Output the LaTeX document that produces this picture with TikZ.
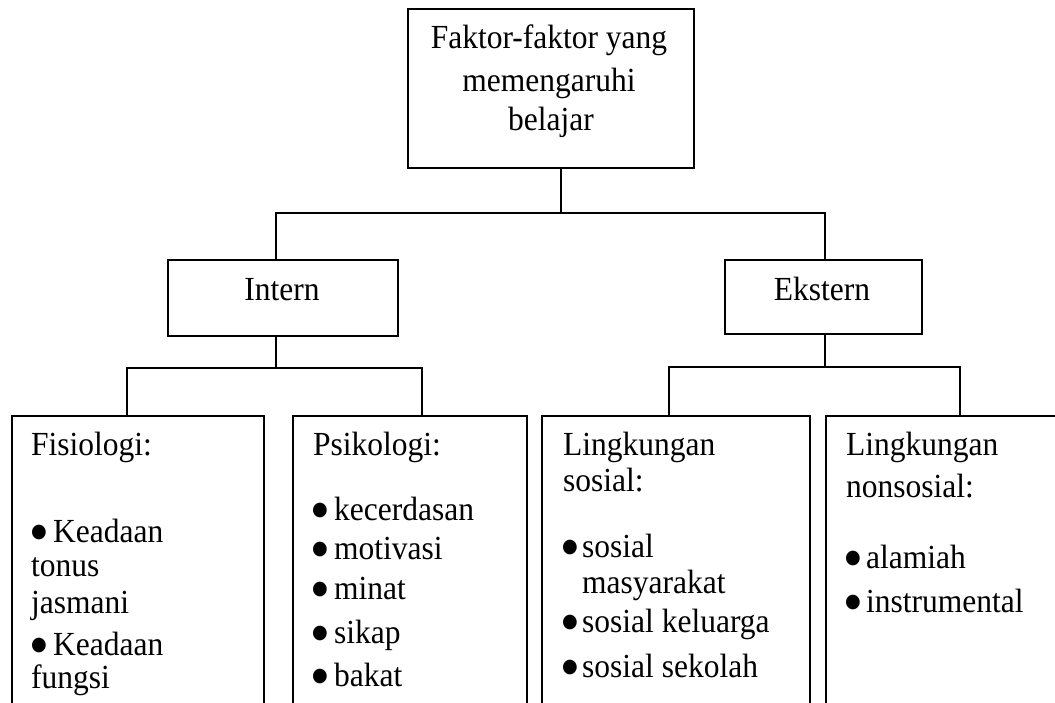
\documentclass[tikz,border=0pt]{standalone}
\usepackage{fontspec}
\setmainfont{Liberation Serif}
\newfontfamily\dejavu{DejaVu Sans}
\newcommand\vt[1]{\scalebox{1}[1.07]{#1}}
\newcommand\bul[1]{\makebox[#1][l]{\raisebox{4pt}{\fontsize{18}{18}\dejavu ●}}}
\begin{document}
\begin{tikzpicture}[x=1pt,y=-1pt,
  box/.style={draw,line width=1.5pt,rectangle,inner sep=0pt,anchor=north west},
  txt/.style={inner sep=0pt,font=\fontsize{31.5}{41}\selectfont},
  wire/.style={line width=1.5pt}]
\useasboundingbox (0,0) rectangle (1055,702);
\clip (0,0) rectangle (1055,702);
% boxes
\node[box,minimum width=286pt,minimum height=159pt] (top) at (407,8) {};
\node[box,minimum width=230pt,minimum height=76pt] (intern) at (167,259) {};
\node[box,minimum width=197pt,minimum height=74pt] (ekstern) at (724,259) {};
\node[box,minimum width=252pt,minimum height=400pt] (fis) at (11,415) {};
\node[box,minimum width=234pt,minimum height=400pt] (psi) at (292,415) {};
\node[box,minimum width=268pt,minimum height=400pt] (sos) at (541,415) {};
\node[box,minimum width=300pt,minimum height=400pt] (non) at (825,415) {};
% texts
\node[txt,anchor=base] (t1) at (549,48) {\vt{Faktor-faktor yang}};
\node[txt,anchor=base] (t2) at (549,91) {\vt{memengaruhi}};
\node[txt,anchor=base] (t3) at (551,130) {\vt{belajar}};
\node[txt,anchor=base] (ti) at (282,300) {\vt{Intern}};
\node[txt,anchor=base] (te) at (822,300) {\vt{Ekstern}};
% Fisiologi
\node[txt,anchor=base west] (f1) at (31,455) {\vt{Fisiologi:}};
\node[txt,anchor=base west] (f2) at (31,542) {\vt{\bul{22pt}Keadaan}};
\node[txt,anchor=base west] (f3) at (31,576) {\vt{tonus}};
\node[txt,anchor=base west] (f4) at (31,613) {\vt{jasmani}};
\node[txt,anchor=base west] (f5) at (31,655) {\vt{\bul{22pt}Keadaan}};
\node[txt,anchor=base west] (f6) at (31,688) {\vt{fungsi}};
% Psikologi
\node[txt,anchor=base west] (p1) at (313,455) {\vt{Psikologi:}};
\node[txt,anchor=base west] (p2) at (312,520) {\vt{\bul{22pt}kecerdasan}};
\node[txt,anchor=base west] (p3) at (312,559) {\vt{\bul{22pt}motivasi}};
\node[txt,anchor=base west] (p4) at (312,599) {\vt{\bul{22pt}minat}};
\node[txt,anchor=base west] (p5) at (312,643) {\vt{\bul{22pt}sikap}};
\node[txt,anchor=base west] (p6) at (312,686) {\vt{\bul{22pt}bakat}};
% Lingkungan sosial
\node[txt,anchor=base west] (s1) at (563,455) {\vt{Lingkungan}};
\node[txt,anchor=base west] (s2) at (563,491) {\vt{sosial:}};
\node[txt,anchor=base west] (s3) at (562,557) {\vt{\bul{20pt}sosial}};
\node[txt,anchor=base west] (s4) at (582,593) {\vt{masyarakat}};
\node[txt,anchor=base west] (s5) at (562,632) {\vt{\bul{20pt}sosial keluarga}};
\node[txt,anchor=base west] (s6) at (562,677) {\vt{\bul{20pt}sosial sekolah}};
% Lingkungan nonsosial
\node[txt,anchor=base west] (n1) at (846,455) {\vt{Lingkungan}};
\node[txt,anchor=base west] (n2) at (846,497) {\vt{nonsosial:}};
\node[txt,anchor=base west] (n3) at (845,568) {\vt{\bul{21pt}alamiah}};
\node[txt,anchor=base west] (n4) at (845,612) {\vt{\bul{21pt}instrumental}};
% junctions
\coordinate (j0) at (561,213);
\coordinate (ji) at (276,213);
\coordinate (je) at (825,213);
\coordinate (k0) at (276,368);
\coordinate (kf) at (127,368);
\coordinate (kp) at (422,368);
\coordinate (e0) at (825,367);
\coordinate (es) at (669,367);
\coordinate (en) at (960,367);
% connectors
\draw[wire] (top.south -| j0) -- (j0);
\draw[wire] (intern.north -| ji) |- (je) -- (ekstern.north -| je);
\draw[wire] (intern.south -| k0) -- (k0);
\draw[wire] (fis.north -| kf) |- (kp) -- (psi.north -| kp);
\draw[wire] (ekstern.south -| e0) -- (e0);
\draw[wire] (sos.north -| es) |- (en) -- (non.north -| en);
\end{tikzpicture}
\end{document}
